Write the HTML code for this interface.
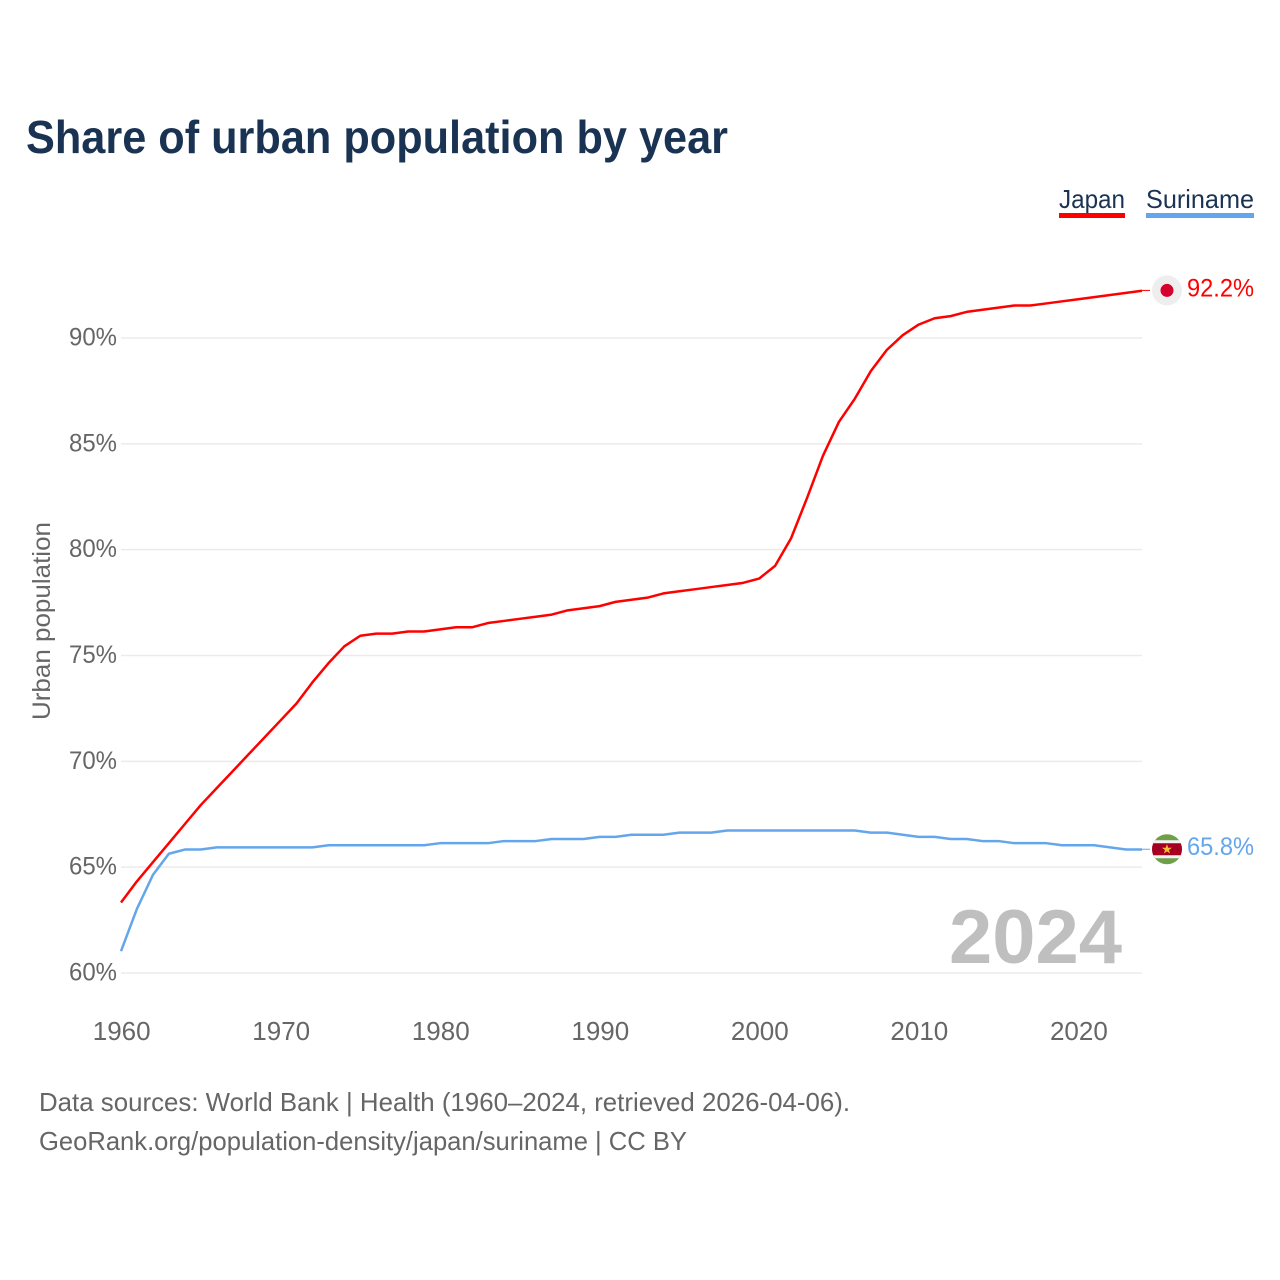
<!DOCTYPE html>
<html lang="en">
<head>
<meta charset="utf-8">
<title>Share of urban population by year</title>
<style>
html,body{margin:0;padding:0;background:#fff;width:1280px;height:1280px;overflow:hidden}
svg{display:block}
text{font-family:"Liberation Sans",sans-serif}
</style>
</head>
<body>
<svg id="chart" xmlns="http://www.w3.org/2000/svg" width="1280" height="1280" viewBox="0 0 1280 1280">
  <text x="26" y="153" font-size="46" font-weight="700" fill="#1a3353" textLength="702" lengthAdjust="spacingAndGlyphs">Share of urban population by year</text>

  <g>
    <g>
      <text x="1059" y="208" font-size="26" fill="#1a3353" textLength="66" lengthAdjust="spacingAndGlyphs">Japan</text>
      <rect x="1059" y="213" width="66" height="5" fill="#ff0000"/>
    </g>
    <g>
      <text x="1146" y="208" font-size="26" fill="#1a3353" textLength="108" lengthAdjust="spacingAndGlyphs">Suriname</text>
      <rect x="1146" y="213" width="108" height="5" fill="#64a6ec"/>
    </g>
  </g>

  <g id="grid"></g>
  <g id="yticks"></g>
  <g id="xticks"></g>

  <text transform="translate(50,621) rotate(-90)" text-anchor="middle" font-size="25" fill="#666666" textLength="198" lengthAdjust="spacingAndGlyphs">Urban population</text>

  <text x="1122" y="963" text-anchor="end" font-size="76" font-weight="700" fill="#bfbfbf" textLength="173" lengthAdjust="spacingAndGlyphs">2024</text>

  <g id="series" transform="translate(0,-0.7)"></g>

  <g id="end-markers">
    <g id="marker-japan">
      <circle cx="1167" cy="0" r="15" fill="#eeeeee"/>
      <circle cx="1167" cy="0" r="6.5" fill="#d5002b"/>
    </g>
    <g id="marker-suriname">
      <clipPath id="suriname-clip"><circle cx="1167" cy="0" r="15"/></clipPath>
      <g clip-path="url(#suriname-clip)">
        <rect x="1150" y="-17" width="34" height="34" fill="#6f9f48"/>
        <rect x="1150" y="-9" width="34" height="18" fill="#f2f2f2"/>
        <rect x="1150" y="-6" width="34" height="12" fill="#a50022"/>
        <text x="1167" y="4.5" text-anchor="middle" font-size="13" fill="#f5c030" style="font-family:'DejaVu Sans',sans-serif">★</text>
      </g>
    </g>
  </g>

  <g>
    <text x="39" y="1111" font-size="26" fill="#666666" textLength="811" lengthAdjust="spacingAndGlyphs">Data sources: World Bank | Health (1960–2024, retrieved 2026-04-06).</text>
    <text x="39" y="1150" font-size="26" fill="#666666" textLength="648" lengthAdjust="spacingAndGlyphs">GeoRank.org/population-density/japan/suriname | CC BY</text>
  </g>
</svg>
<script>
const years = [1960,1961,1962,1963,1964,1965,1966,1967,1968,1969,1970,1971,1972,1973,1974,1975,1976,1977,1978,1979,1980,1981,1982,1983,1984,1985,1986,1987,1988,1989,1990,1991,1992,1993,1994,1995,1996,1997,1998,1999,2000,2001,2002,2003,2004,2005,2006,2007,2008,2009,2010,2011,2012,2013,2014,2015,2016,2017,2018,2019,2020,2021,2022,2023,2024];
const japanValues = [63.3,64.3,65.2,66.1,67.0,67.9,68.7,69.5,70.3,71.1,71.9,72.7,73.7,74.6,75.4,75.9,76.0,76.0,76.1,76.1,76.2,76.3,76.3,76.5,76.6,76.7,76.8,76.9,77.1,77.2,77.3,77.5,77.6,77.7,77.9,78.0,78.1,78.2,78.3,78.4,78.6,79.2,80.5,82.4,84.4,86.0,87.1,88.4,89.4,90.1,90.6,90.9,91.0,91.2,91.3,91.4,91.5,91.5,91.6,91.7,91.8,91.9,92.0,92.1,92.2];
const surinameValues = [61.0,63.0,64.6,65.6,65.8,65.8,65.9,65.9,65.9,65.9,65.9,65.9,65.9,66.0,66.0,66.0,66.0,66.0,66.0,66.0,66.1,66.1,66.1,66.1,66.2,66.2,66.2,66.3,66.3,66.3,66.4,66.4,66.5,66.5,66.5,66.6,66.6,66.6,66.7,66.7,66.7,66.7,66.7,66.7,66.7,66.7,66.7,66.6,66.6,66.5,66.4,66.4,66.3,66.3,66.2,66.2,66.1,66.1,66.1,66.0,66.0,66.0,65.9,65.8,65.8];
const yTickValues = [60,65,70,75,80,85,90];
const xTickValues = [1960,1970,1980,1990,2000,2010,2020];

const NS = 'http://www.w3.org/2000/svg';
const plot = { left: 121, right: 1142, y60: 973, y90: 338 };
const xScale = year => plot.left + (year - 1960) * (plot.right - plot.left) / (2024 - 1960);
const yScale = value => plot.y60 + (value - 60) * (plot.y90 - plot.y60) / (90 - 60);

const grid = document.getElementById('grid');
const yticks = document.getElementById('yticks');
yTickValues.forEach(v => {
  const y = yScale(v);
  const line = document.createElementNS(NS, 'line');
  
  
  line.setAttribute('x1', plot.left);
  line.setAttribute('x2', plot.right);
  line.setAttribute('y1', y);
  line.setAttribute('y2', y);
  line.setAttribute('stroke', '#ebebeb');
  line.setAttribute('stroke-width', '1.5');
  grid.appendChild(line);
  const label = document.createElementNS(NS, 'text');
  
  
  label.setAttribute('x', 117);
  label.setAttribute('y', y + 7.5);
  label.setAttribute('text-anchor', 'end');
  label.setAttribute('font-size', '25');
  label.setAttribute('fill', '#666666');
  label.setAttribute('textLength', '48');
  label.setAttribute('lengthAdjust', 'spacingAndGlyphs');
  label.textContent = v + '%';
  yticks.appendChild(label);
});

const xticks = document.getElementById('xticks');
xTickValues.forEach(v => {
  const label = document.createElementNS(NS, 'text');
  
  
  label.setAttribute('x', xScale(v) + 0.7);
  label.setAttribute('y', 1040);
  label.setAttribute('text-anchor', 'middle');
  label.setAttribute('font-size', '26');
  label.setAttribute('fill', '#666666');
  label.textContent = v;
  xticks.appendChild(label);
});

const series = document.getElementById('series');
function pathFor(values) {
  return values.map((v, i) => (i ? 'L' : 'M') + xScale(years[i]).toFixed(2) + ' ' + yScale(v).toFixed(2)).join(' ');
}

const japanLine = document.createElementNS(NS, 'path');


japanLine.setAttribute('d', pathFor(japanValues));
japanLine.setAttribute('fill', 'none');
japanLine.setAttribute('stroke', '#ff0000');
japanLine.setAttribute('stroke-width', '2.5');
japanLine.setAttribute('stroke-linejoin', 'round');
series.appendChild(japanLine);

const surinameLine = document.createElementNS(NS, 'path');


surinameLine.setAttribute('d', pathFor(surinameValues));
surinameLine.setAttribute('fill', 'none');
surinameLine.setAttribute('stroke', '#64a6ec');
surinameLine.setAttribute('stroke-width', '2.5');
surinameLine.setAttribute('stroke-linejoin', 'round');
series.appendChild(surinameLine);

const lastJapan = japanValues[japanValues.length - 1];
const lastSuriname = surinameValues[surinameValues.length - 1];
const markers = document.getElementById('end-markers');
const markerShift = -1;

document.getElementById('marker-japan').setAttribute('transform', 'translate(0,' + (yScale(lastJapan) + markerShift) + ')');
document.getElementById('marker-suriname').setAttribute('transform', 'translate(0,' + (yScale(lastSuriname) + markerShift) + ')');

const japanConnector = document.createElementNS(NS, 'line');


japanConnector.setAttribute('x1', plot.right);
japanConnector.setAttribute('x2', 1150);
japanConnector.setAttribute('y1', yScale(lastJapan) + markerShift);
japanConnector.setAttribute('y2', yScale(lastJapan) + markerShift);
japanConnector.setAttribute('stroke', '#ff0000');
japanConnector.setAttribute('stroke-width', '1');
markers.appendChild(japanConnector);

const surinameConnector = document.createElementNS(NS, 'line');


surinameConnector.setAttribute('x1', plot.right);
surinameConnector.setAttribute('x2', 1150);
surinameConnector.setAttribute('y1', yScale(lastSuriname) + markerShift);
surinameConnector.setAttribute('y2', yScale(lastSuriname) + markerShift);
surinameConnector.setAttribute('stroke', '#64a6ec');
surinameConnector.setAttribute('stroke-width', '1');
markers.appendChild(surinameConnector);

const japanValueLabel = document.createElementNS(NS, 'text');


japanValueLabel.setAttribute('x', 1254);
japanValueLabel.setAttribute('y', yScale(lastJapan) + 5);
japanValueLabel.setAttribute('text-anchor', 'end');
japanValueLabel.setAttribute('font-size', '25');
japanValueLabel.setAttribute('fill', '#ff0000');
japanValueLabel.setAttribute('textLength', '67');
japanValueLabel.setAttribute('lengthAdjust', 'spacingAndGlyphs');
japanValueLabel.textContent = lastJapan.toFixed(1) + '%';
markers.appendChild(japanValueLabel);

const surinameValueLabel = document.createElementNS(NS, 'text');


surinameValueLabel.setAttribute('x', 1254);
surinameValueLabel.setAttribute('y', yScale(lastSuriname) + 5);
surinameValueLabel.setAttribute('text-anchor', 'end');
surinameValueLabel.setAttribute('font-size', '25');
surinameValueLabel.setAttribute('fill', '#64a6ec');
surinameValueLabel.setAttribute('textLength', '67');
surinameValueLabel.setAttribute('lengthAdjust', 'spacingAndGlyphs');
surinameValueLabel.textContent = lastSuriname.toFixed(1) + '%';
markers.appendChild(surinameValueLabel);
</script>
</body>
</html>
